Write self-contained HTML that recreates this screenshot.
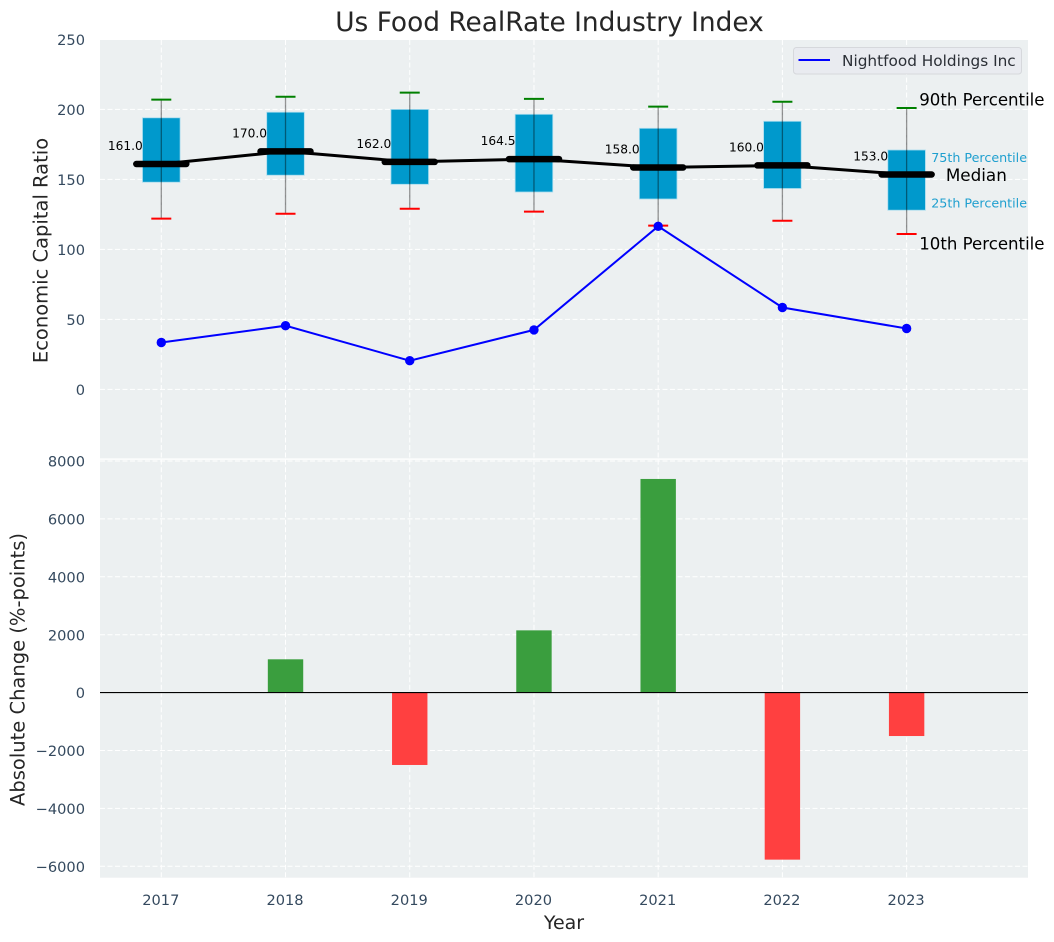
<!DOCTYPE html>
<html>
<head>
<meta charset="utf-8">
<title>Us Food RealRate Industry Index</title>
<style>
html,body{margin:0;padding:0;background:#fff;width:1054px;height:942px;overflow:hidden}
svg{display:block}
text{font-family:"DejaVu Sans","Liberation Sans",sans-serif}
</style>
</head>
<body>
<svg id="chart" width="1054" height="942" viewBox="0 0 1054 942" xmlns="http://www.w3.org/2000/svg"></svg>
<script>
const years = [2017, 2018, 2019, 2020, 2021, 2022, 2023];
const p90 = [207, 209, 212, 207.5, 202, 205.5, 201];
const q3 = [194, 198, 200, 196.5, 186.5, 191.5, 171];
const medians = [161, 170, 162.5, 164.5, 158.5, 160, 153.5];
const q1 = [148, 153, 146.5, 141, 136, 143.5, 128];
const p10 = [122, 125.5, 129, 127, 117, 120.5, 111];
const medianLabels = ['161.0', '170.0', '162.0', '164.5', '158.0', '160.0', '153.0'];
const companyValues = [33.5, 45.5, 20.5, 42.5, 116.5, 58.5, 43.5];
const changeValues = [0, 1150, -2500, 2150, 7380, -5770, -1500];
const topTicks = [0, 50, 100, 150, 200, 250];
const bottomTicks = [-6000, -4000, -2000, 0, 2000, 4000, 6000, 8000];

const NS = 'http://www.w3.org/2000/svg';
const svg = document.getElementById('chart');
const plotLeft = 100, plotRight = 1028;
const topPanelTop = 40, topPanelBottom = 458.4;
const botPanelTop = 459.8, botPanelBottom = 877.7;
const xAt = v => 161.3 + (v - 2017) * 124.22;
const yTop = v => 389.4 - v * 1.4;
const yBot = v => 692.6 - v * 0.02895;

function make(tag, attrs, parent, content) {
  const el = document.createElementNS(NS, tag);
  for (const k in attrs) el.setAttribute(k, attrs[k]);
  if (content !== undefined) el.textContent = content;
  (parent || svg).appendChild(el);
  return el;
}

const gridStyle = {stroke: '#ffffff', 'stroke-width': 1, 'stroke-dasharray': '5 2.5', fill: 'none'};

// panels
const topPanel = make('rect', {x: plotLeft, y: topPanelTop, width: plotRight - plotLeft, height: topPanelBottom - topPanelTop, fill: '#ecf0f1'});


const botPanel = make('rect', {x: plotLeft, y: botPanelTop, width: plotRight - plotLeft, height: botPanelBottom - botPanelTop, fill: '#ecf0f1'});



// grid
years.forEach(y => {
  const g1 = make('line', Object.assign({x1: xAt(y), x2: xAt(y), y1: topPanelTop, y2: topPanelBottom}, gridStyle));
  
  
  const g2 = make('line', Object.assign({x1: xAt(y), x2: xAt(y), y1: botPanelTop, y2: botPanelBottom}, gridStyle));
  
  
});
topTicks.forEach(t => {
  const g = make('line', Object.assign({x1: plotLeft, x2: plotRight, y1: yTop(t), y2: yTop(t)}, gridStyle));
  
  
  const l = make('text', {x: 85, y: yTop(t) + 5.6, 'text-anchor': 'end', 'font-size': 14.6, fill: '#34495e'}, svg, String(t));
  
  
});
bottomTicks.forEach(t => {
  const g = make('line', Object.assign({x1: plotLeft, x2: plotRight, y1: yBot(t), y2: yBot(t)}, gridStyle));
  
  
  const l = make('text', {x: 85, y: yBot(t) + 5.6, 'text-anchor': 'end', 'font-size': 14.6, fill: '#34495e'}, svg, String(t).replace('-', '\u2212'));
  
  
});

// boxes and whiskers
years.forEach((y, i) => {
  const cx = xAt(y);
  const box = make('rect', {x: cx - 18.8, y: yTop(q3[i]), width: 37.6, height: yTop(q1[i]) - yTop(q3[i]), fill: '#0099cc', stroke: '#a8dcee', 'stroke-width': 0.8});
  
  
  const whisker = make('line', {x1: cx, x2: cx, y1: yTop(p90[i]), y2: yTop(p10[i]), stroke: '#000000', 'stroke-opacity': 0.42, 'stroke-width': 1.3});
  
  
  const capHi = make('line', {x1: cx - 10, x2: cx + 10, y1: yTop(p90[i]), y2: yTop(p90[i]), stroke: '#008000', 'stroke-width': 2});
  
  
  const capLo = make('line', {x1: cx - 10, x2: cx + 10, y1: yTop(p10[i]), y2: yTop(p10[i]), stroke: '#ff0000', 'stroke-width': 2});
  
  
});

// median connecting line
const medianLine = make('polyline', {points: years.map((y, i) => xAt(y) + ',' + yTop(medians[i])).join(' '), fill: 'none', stroke: '#000000', 'stroke-width': 3});


years.forEach((y, i) => {
  const cx = xAt(y), my = yTop(medians[i]);
  const m = make('line', {x1: cx - 25, x2: cx + 25, y1: my, y2: my, stroke: '#000000', 'stroke-width': 6.5, 'stroke-linecap': 'round'});
  
  
  const t = make('text', {x: cx - 18.5, y: my - 14, 'text-anchor': 'end', 'font-size': 12.2, fill: '#000000'}, svg, medianLabels[i]);
  
  
});

// company series
const companyLine = make('polyline', {points: years.map((y, i) => xAt(y) + ',' + yTop(companyValues[i])).join(' '), fill: 'none', stroke: '#0000ff', 'stroke-width': 2});


years.forEach((y, i) => {
  const c = make('circle', {cx: xAt(y), cy: yTop(companyValues[i]), r: 4.7, fill: '#0000ff'});
  
  
});

// percentile annotations, tied to the last year's values
const last = years.length - 1;
const lastX = xAt(years[last]);
function note(txt, dx, yPos, size, color, name) {
  const t = make('text', {x: lastX + dx, y: yPos, 'font-size': size, fill: color}, svg, txt);
  
  
}
note('90th Percentile', 12.6, yTop(p90[last]) - 2.5, 16.6, '#000000', 'p90-annotation');
note('75th Percentile', 24.6, yTop(q3[last]) + 12, 12.7, '#1e9fcf', 'p75-annotation');
note('Median', 39.2, yTop(medians[last]) + 6.3, 16.8, '#000000', 'median-annotation');
note('25th Percentile', 24.6, yTop(q1[last]) - 2.5, 12.7, '#1e9fcf', 'p25-annotation');
note('10th Percentile', 12.6, yTop(p10[last]) + 15.5, 16.6, '#000000', 'p10-annotation');

// legend
const legendBox = make('rect', {x: 793.5, y: 47.5, width: 228, height: 26.5, rx: 3, fill: '#e9ebf0', stroke: '#d6d8dc', 'stroke-width': 1});


const legendSwatch = make('line', {x1: 798.5, x2: 830, y1: 60, y2: 60, stroke: '#0000ff', 'stroke-width': 2});


const legendText = make('text', {x: 842, y: 66, 'font-size': 15.3, fill: '#2b2f36'}, svg, 'Nightfood Holdings Inc');



// change bars
years.forEach((y, i) => {
  const v = changeValues[i];
  if (v === 0) return;
  const top = Math.min(yBot(v), yBot(0));
  const b = make('rect', {x: xAt(y) - 17.7, y: top, width: 35.4, height: Math.abs(yBot(v) - yBot(0)), fill: v > 0 ? '#3a9e3e' : '#ff4040'});
  
  
});
const zeroLine = make('line', {x1: plotLeft, x2: plotRight, y1: yBot(0), y2: yBot(0), stroke: '#000000', 'stroke-width': 1.1});



// x tick labels
years.forEach(y => {
  const t = make('text', {x: xAt(y) - 0.5, y: 905, 'text-anchor': 'middle', 'font-size': 14.6, fill: '#34495e'}, svg, String(y));
  
  
});

// titles
const title = make('text', {x: 549.5, y: 31, 'text-anchor': 'middle', 'font-size': 26.4, fill: '#262626'}, svg, 'Us Food RealRate Industry Index');


const xTitle = make('text', {x: 564, y: 929, 'text-anchor': 'middle', 'font-size': 19, fill: '#262626'}, svg, 'Year');


const yTitleTop = make('text', {x: 0, y: 0, transform: 'translate(47.5,250.5) rotate(-90)', 'text-anchor': 'middle', 'font-size': 19.5, fill: '#262626'}, svg, 'Economic Capital Ratio');


const yTitleBot = make('text', {x: 0, y: 0, transform: 'translate(24.5,669.5) rotate(-90)', 'text-anchor': 'middle', 'font-size': 19.5, fill: '#262626'}, svg, 'Absolute Change (%-points)');


</script>
</body>
</html>
